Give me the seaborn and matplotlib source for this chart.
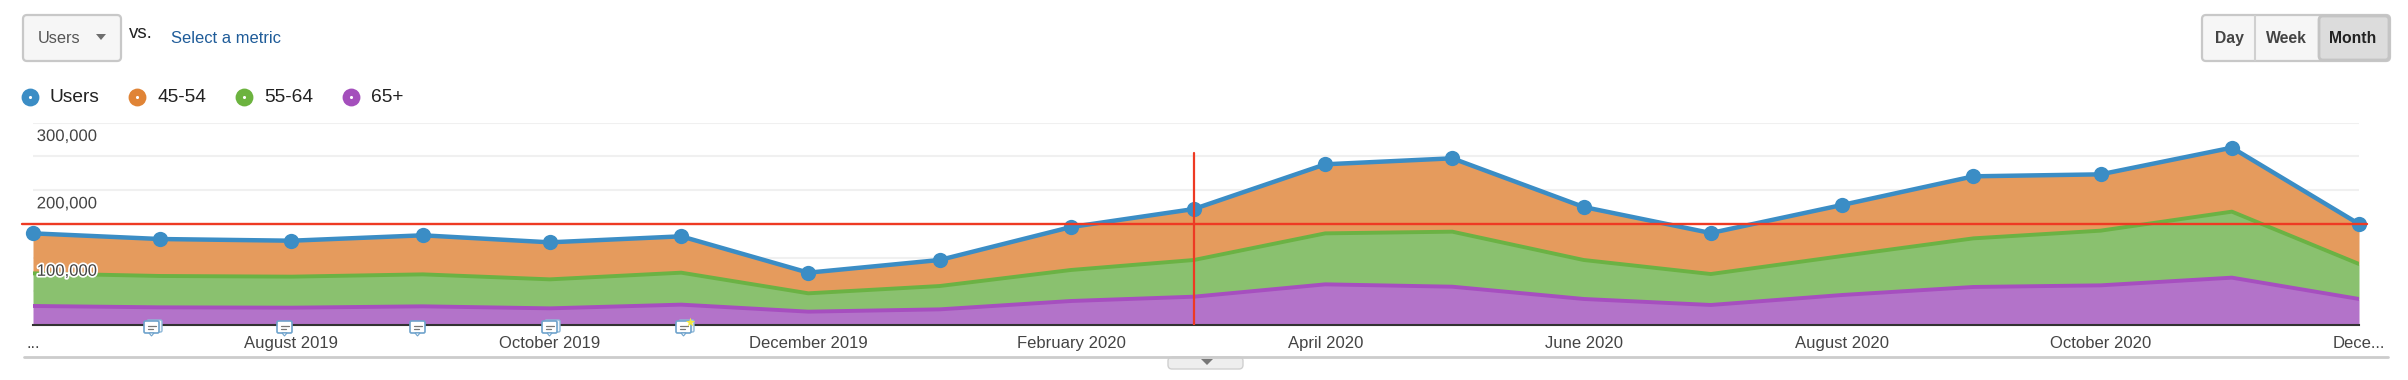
import numpy as np
import pandas as pd
import seaborn as sns
import matplotlib.pyplot as plt
import matplotlib.patheffects as pe
from matplotlib.patches import FancyBboxPatch, Polygon

months = pd.date_range("2019-06-01", "2020-12-01", freq="MS")
users = [135900, 127500, 125000, 133000, 122600, 131500, 77600, 96400, 145300, 172000,
         238300, 247200, 175000, 136400, 178000, 220500, 223400, 263000, 149800]
age_65 = [28200, 26200, 25700, 27700, 24700, 30200, 19800, 23200, 35600, 42000,
          60300, 56800, 38600, 29700, 44500, 56400, 58800, 70200, 38600]
age_55 = [48400, 46500, 46000, 47400, 43000, 47400, 27200, 34600, 46000, 54400,
          75600, 81600, 57800, 45900, 57800, 72100, 81100, 97900, 51900]
age_45 = [59300, 54800, 53300, 57900, 54900, 53900, 30600, 38600, 63700, 75600,
          102400, 108800, 78600, 60800, 75700, 92000, 83500, 94900, 59300]

x_labels = ["...", "August 2019", "October 2019", "December 2019", "February 2020", "April 2020",
            "June 2020", "August 2020", "October 2020", "Dece..."]
y_labels = ["300,000", "200,000", "100,000"]
y_label_values = [300000, 200000, 100000]
legend_names = ["Users", "45-54", "55-64", "65+"]

W, H = 2408, 380
BLUE, ORANGE, GREEN, PURPLE = "#3b8dc5", "#e08436", "#6cb33f", "#a44fbc"
RED = "#ee3a23"

sns.set_theme(style="whitegrid", rc={"grid.color": "#f0f0f0", "grid.linewidth": 1.5})
plt.rcParams["font.family"] = ["Liberation Sans", "DejaVu Sans"]

fig = plt.figure(figsize=(W / 100, H / 100), dpi=100)
ax = fig.add_axes([33 / W, (H - 325) / H, (2359 - 33) / W, (325 - 122.7) / H])

# stacked areas, bottom to top
ax.stackplot(months, age_65, age_55, age_45, colors=["#b373c9", "#8ac16f", "#e59b5d"], lw=0, zorder=2)
top_65 = np.array(age_65)
top_55 = top_65 + np.array(age_55)
sns.lineplot(x=months, y=top_65, ax=ax, color="#a64fbf", lw=2.8, zorder=3)
sns.lineplot(x=months, y=top_55, ax=ax, color="#6bb244", lw=2.8, zorder=3)
sns.lineplot(x=months, y=users, ax=ax, color=BLUE, lw=3.2, marker="o", markersize=11,
             markeredgewidth=0, clip_on=False, zorder=4)

ax.set_xlim(months[0], months[-1])
ax.set_ylim(0, 300000)
ax.set_xlabel("")
ax.set_ylabel("")
ax.set_yticks(np.arange(0, 300001, 50000))
ax.set_yticklabels([])
ax.set_xticks(months[::2])
ax.set_xticklabels(x_labels, fontsize=12, color="#444444")
ax.tick_params(axis="x", length=0, pad=8)
ax.tick_params(axis="y", length=0)
ax.grid(axis="x", visible=False)
ax.set_axisbelow(True)
for name in ["top", "left", "right"]:
    ax.spines[name].set_visible(False)
ax.spines["bottom"].set_color("#333333")
ax.spines["bottom"].set_linewidth(1.5)
ax.spines["bottom"].set_zorder(5)

for lab, val in zip(y_labels, y_label_values):
    ax.annotate(lab, xy=(0, val), xycoords=("axes fraction", "data"), xytext=(2.7, -4.5),
                textcoords="offset points", va="top", ha="left", fontsize=12, color="#444444",
                zorder=8, path_effects=[pe.withStroke(linewidth=2.5, foreground="white")])

# red crosshair
ax.axhline(users[-1], xmin=-0.0047, xmax=1.0034, color=RED, lw=1.7, clip_on=False, zorder=6)
ax.axvline(months[9], ymin=0, ymax=255600 / 300000, color=RED, lw=1.6, zorder=6)

# page furniture, in pixels
ui = fig.add_axes([0, 0, 1, 1], facecolor="none")
ui.set_xlim(0, W)
ui.set_ylim(H, 0)
ui.axis("off")


def box(x0, y0, x1, y1, face="#f6f6f6", edge="#c8c8c8", lw=1.6):
    ui.add_patch(FancyBboxPatch((x0, y0), x1 - x0, y1 - y0, boxstyle="round,pad=0,rounding_size=4",
                                fc=face, ec=edge, lw=lw))


box(23, 15, 121, 61)
ui.text(38, 38.5, "Users", fontsize=11.8, color="#555555", va="center")
ui.add_patch(Polygon([[96, 34], [106, 34], [101, 40]], fc="#6e6e6e", ec="none"))
ui.text(129, 34, "vs.", fontsize=13.5, color="#222222", va="center")
ui.text(171, 38.5, "Select a metric", fontsize=11.9, color="#1f5c99", va="center")

box(2202, 15, 2390, 61)
box(2319, 16, 2389, 60, face="#dcdcdc", edge="#c4c4c4", lw=2)
ui.plot([2255, 2255], [16, 60], color="#d0d0d0", lw=1.5)
ui.text(2229, 38.5, "Day", fontsize=11.3, fontweight="bold", color="#444444", ha="center", va="center")
ui.text(2286, 38.5, "Week", fontsize=11.3, fontweight="bold", color="#444444", ha="center", va="center")
ui.text(2353, 38.5, "Month", fontsize=11.3, fontweight="bold", color="#222222", ha="center", va="center")

# legend
for name, col, dot_x, text_x in zip(legend_names, [BLUE, ORANGE, GREEN, PURPLE],
                                    [30, 137, 244, 351], [49.5, 157, 264, 371]):
    ui.scatter([dot_x], [97], s=165, color=col, lw=0)
    ui.scatter([dot_x], [97], s=5, color="white", lw=0)
    ui.text(text_x, 97.5, name, fontsize=13.8, color="#222222", va="center")

# bottom rule and collapse tab
ui.plot([24, 2388], [357, 357], color="#cccccc", lw=2)
box(1168, 357, 1243, 369, face="#eeeeee", edge="#d0d0d0", lw=1)
ui.add_patch(Polygon([[1201, 359], [1213, 359], [1207, 365]], fc="#777777", ec="none"))


# annotation bubbles under the axis
def bubble(cx, double=False, star=False):
    if double:
        ui.add_patch(FancyBboxPatch((cx - 5, 320), 15, 12, boxstyle="round,pad=0,rounding_size=1.5",
                                    fc="#eef5fb", ec="#8fb8d8", lw=1, zorder=6))
    ui.add_patch(FancyBboxPatch((cx - 8, 321), 15, 12, boxstyle="round,pad=0,rounding_size=1.5",
                                fc="white", ec="#6fa3cc", lw=1.2, zorder=7))
    ui.add_patch(Polygon([[cx - 3, 333], [cx + 2, 333], [cx - 0.5, 336]], fc="white", ec="#6fa3cc",
                         lw=0.8, zorder=7))
    ui.plot([cx - 4.5, cx + 3.5], [325.5, 325.5], color="#777777", lw=0.9, zorder=8)
    ui.plot([cx - 4.5, cx + 1], [328.5, 328.5], color="#777777", lw=0.9, zorder=8)
    if star:
        ui.scatter([cx + 6], [322], marker="*", s=50, color="#f2e640", lw=0, zorder=9)


for cx, double, star in zip([152, 285, 418, 550, 684], [True, False, False, True, True],
                            [False, False, False, False, True]):
    bubble(cx, double, star)

fig.savefig("out.png", dpi=100)
